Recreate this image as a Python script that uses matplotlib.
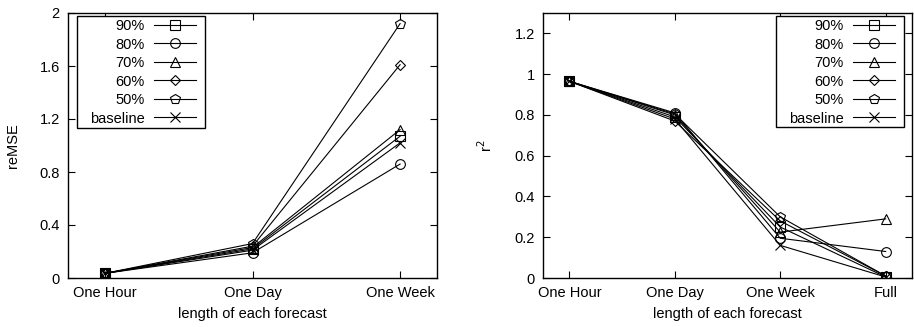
import matplotlib
matplotlib.use("Agg")
import matplotlib.pyplot as plt
from matplotlib.ticker import FuncFormatter
from matplotlib.patches import Rectangle

plt.rcParams['font.family'] = ['Liberation Sans', 'DejaVu Sans']

series = ["90%", "80%", "70%", "60%", "50%", "baseline"]
markers = ["s", "o", "^", "D", "p", "x"]

cats_left = ["One Hour", "One Day", "One Week"]
remse = {
    "90%": [0.035, 0.22, 1.07],
    "80%": [0.035, 0.19, 0.86],
    "70%": [0.035, 0.23, 1.12],
    "60%": [0.035, 0.24, 1.61],
    "50%": [0.035, 0.26, 1.92],
    "baseline": [0.035, 0.21, 1.02],
}

cats_right = ["One Hour", "One Day", "One Week", "Full"]
r2 = {
    "90%": [0.965, 0.79, 0.25, 0.005],
    "80%": [0.965, 0.81, 0.195, 0.13],
    "70%": [0.965, 0.80, 0.225, 0.29],
    "60%": [0.965, 0.77, 0.28, 0.01],
    "50%": [0.965, 0.805, 0.30, 0.01],
    "baseline": [0.965, 0.78, 0.16, 0.005],
}

fig = plt.figure(figsize=(9.14, 3.27), dpi=100)
W, H = 914, 327
axL = fig.add_axes([68 / W, 1 - 278 / H, (437 - 68) / W, (278 - 13) / H])
axR = fig.add_axes([543 / W, 1 - 278 / H, (912 - 543) / W, (278 - 13) / H])

fmt = FuncFormatter(lambda v, p: ("%g" % round(v, 2)))


def draw(ax, cats, data, ylim, yticks, ylabel, box_px, anchor_px, ax_px):
    x = list(range(len(cats)))
    for s, m in zip(series, markers):
        ms = 5 if m == "D" else 7
        ax.plot(x, data[s], color="black", lw=0.8, marker=m, ms=ms,
                mfc="none", mec="black", mew=0.8, label=s)
    ax.set_xlim(-0.25, len(cats) - 0.75)
    ax.set_ylim(*ylim)
    ax.set_xticks(x)
    ax.set_xticklabels(cats)
    ax.set_yticks(yticks)
    ax.yaxis.set_major_formatter(fmt)
    ax.tick_params(direction="in", top=True, right=True, labelsize=10.5,
                   length=5, width=0.8, pad=6)
    ax.set_xlabel("length of each forecast", fontsize=10.5, labelpad=5)
    ax.set_ylabel(ylabel, fontsize=10.5, labelpad=14)
    for sp in ax.spines.values():
        sp.set_linewidth(1.0)
    # axes pixel extents
    x0a, x1a, y0a, y1a = ax_px  # left, right, top, bottom in figure px
    def tx(px):
        return (px - x0a) / (x1a - x0a)
    def ty(py):
        return (y1a - py) / (y1a - y0a)
    bx0, bx1, by0, by1 = box_px
    rect = Rectangle((tx(bx0), ty(by1)), tx(bx1) - tx(bx0), ty(by0) - ty(by1),
                     transform=ax.transAxes, facecolor="white",
                     edgecolor="black", lw=1.0, zorder=4.5, clip_on=False)
    ax.add_patch(rect)
    leg = ax.legend(loc="upper right",
                    bbox_to_anchor=(tx(anchor_px[0]), ty(anchor_px[1])),
                    markerfirst=False, fontsize=10.5, frameon=False,
                    handlelength=2.9, labelspacing=0.31, borderpad=0.0,
                    handletextpad=0.6, borderaxespad=0.0)
    leg.set_zorder(5)
    leg._legend_box.align = "right"
    return leg


draw(axL, cats_left, remse, (0, 2), [0, 0.4, 0.8, 1.2, 1.6, 2], "reMSE",
     (77, 205, 16, 128), (196, 19), (68, 437, 13, 278))
draw(axR, cats_right, r2, (0, 1.3), [0, 0.2, 0.4, 0.6, 0.8, 1.0, 1.2], "r$^2$",
     (776, 904, 16, 127), (895, 19), (543, 912, 13, 278))

fig.savefig("out.png", dpi=100)
